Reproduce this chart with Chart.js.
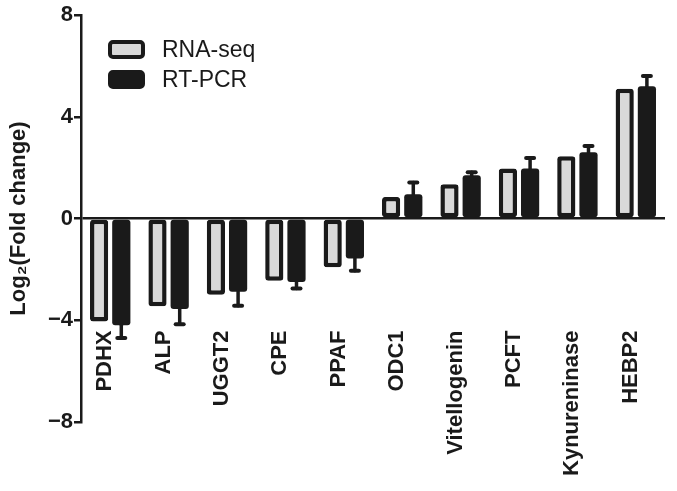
<!DOCTYPE html>
<html>
<head>
<meta charset="utf-8">
<script src="https://cdn.jsdelivr.net/npm/chart.js@4.4.1/dist/chart.umd.min.js"></script>
<style>
	html, body { margin: 0; padding: 0; background: #fff; }
	#wrap { width: 677px; height: 491px; position: relative; }
</style>
</head>
<body>
<div id="wrap"><canvas id="chart"></canvas></div>
<script>
const genes = ['PDHX', 'ALP', 'UGGT2', 'CPE', 'PPAF', 'ODC1', 'Vitellogenin', 'PCFT', 'Kynureninase', 'HEBP2'];
const rnaSeq = [-4.05, -3.45, -3.0, -2.45, -1.92, 0.85, 1.35, 1.97, 2.45, 5.1];
const rtPcr = [-4.2, -3.56, -2.88, -2.5, -1.57, 0.95, 1.7, 1.97, 2.6, 5.2];
const rtPcrErr = [0.5, 0.6, 0.55, 0.25, 0.48, 0.47, 0.12, 0.41, 0.25, 0.4];
const yTicks = [-8, -4, 0, 4, 8];
const seriesNames = ['RNA-seq', 'RT-PCR'];

const INK = '#1a1a1a';
const GREY = '#d9d9d9';
const FONT = '"Liberation Sans", Arial, sans-serif';

Chart.defaults.font.family = FONT;
Chart.defaults.color = INK;

// error bars on the RT-PCR bars, pointing away from zero
const errorBars = {
	id: 'errorBars',
	afterDatasetsDraw(chart) {
		const ctx = chart.ctx;
		const y = chart.scales.y;
		const meta = chart.getDatasetMeta(1);
		ctx.save();
		ctx.strokeStyle = INK;
		ctx.lineCap = 'round';
		meta.data.forEach((bar, i) => {
			const v = rtPcr[i];
			const end = y.getPixelForValue(v + Math.sign(v) * rtPcrErr[i]);
			ctx.lineWidth = 3.5;
			ctx.beginPath();
			ctx.moveTo(bar.x, bar.y);
			ctx.lineTo(bar.x, end);
			ctx.stroke();
			ctx.lineWidth = 4;
			ctx.beginPath();
			ctx.moveTo(bar.x - 4, end);
			ctx.lineTo(bar.x + 4, end);
			ctx.stroke();
		});
		ctx.restore();
	}
};

// gene names, rotated, hanging below the zero line
const geneLabels = {
	id: 'geneLabels',
	afterDraw(chart) {
		const ctx = chart.ctx;
		const x = chart.scales.x;
		const top = chart.scales.y.getPixelForValue(0) + 112;
		ctx.save();
		ctx.fillStyle = INK;
		ctx.font = 'bold 22px ' + FONT;
		ctx.textAlign = 'right';
		ctx.textBaseline = 'alphabetic';
		genes.forEach((g, i) => {
			ctx.save();
			ctx.translate(x.getPixelForValue(i) + 1, top);
			ctx.rotate(-Math.PI / 2);
			ctx.fillText(g, 0, 0);
			ctx.restore();
		});
		ctx.restore();
	}
};

// legend box inside the plot, top left
const insideLegend = {
	id: 'insideLegend',
	afterDraw(chart) {
		const ctx = chart.ctx;
		const area = chart.chartArea;
		const fills = [GREY, INK];
		ctx.save();
		ctx.font = '23px ' + FONT;
		ctx.textBaseline = 'middle';
		seriesNames.forEach((name, i) => {
			const bx = area.left + 29;
			const by = area.top + 27 + i * 30;
			ctx.beginPath();
			ctx.roundRect(bx, by, 33, 15, 3);
			ctx.fillStyle = fills[i];
			ctx.fill();
			ctx.lineWidth = 4;
			ctx.strokeStyle = INK;
			ctx.stroke();
			ctx.fillStyle = INK;
			ctx.fillText(name, area.left + 81, by + 8.5);
		});
		ctx.restore();
	}
};

new Chart(document.getElementById('chart'), {
	type: 'bar',
	data: {
		labels: genes,
		datasets: [
			{
				label: seriesNames[0],
				data: rnaSeq,
				backgroundColor: GREY,
				borderColor: INK,
				borderWidth: 4.5,
				borderRadius: 3,
				borderSkipped: false,
				categoryPercentage: 0.76,
				barPercentage: 0.82
			},
			{
				label: seriesNames[1],
				data: rtPcr,
				backgroundColor: INK,
				borderColor: INK,
				borderWidth: 0,
				borderRadius: 3,
				borderSkipped: false,
				categoryPercentage: 0.76,
				barPercentage: 0.82
			}
		]
	},
	options: {
		responsive: true,
		maintainAspectRatio: false,
		animation: false,
		layout: { padding: { top: 15, bottom: 69, right: 12, left: 0 } },
		plugins: {
			legend: { display: false },
			tooltip: { enabled: false }
		},
		scales: {
			x: {
				display: false
			},
			y: {
				min: -8,
				max: 8,
				afterBuildTicks: (s) => { s.ticks = yTicks.map(v => ({ value: v })); },
				afterFit: (s) => { s.width = 81; },
				border: { display: true, color: INK, width: 2.5 },
				grid: {
					drawOnChartArea: true,
					color: (c) => (c.tick && c.tick.value === 0 ? INK : 'rgba(0,0,0,0)'),
					lineWidth: 2.5,
					tickColor: INK,
					tickLength: 7,
					tickWidth: 2.5
				},
				ticks: {
					padding: 1,
					font: { size: 22, weight: 'bold' },
					color: INK,
					callback: (v) => (v < 0 ? '\u2212' + Math.abs(v) : String(v))
				},
				title: {
					display: true,
					text: 'Log\u2082(Fold change)',
					font: { size: 22, weight: 'bold' },
					color: INK,
					padding: { top: 6, bottom: 0 }
				}
			}
		}
	},
	plugins: [errorBars, geneLabels, insideLegend]
});
</script>
</body>
</html>
